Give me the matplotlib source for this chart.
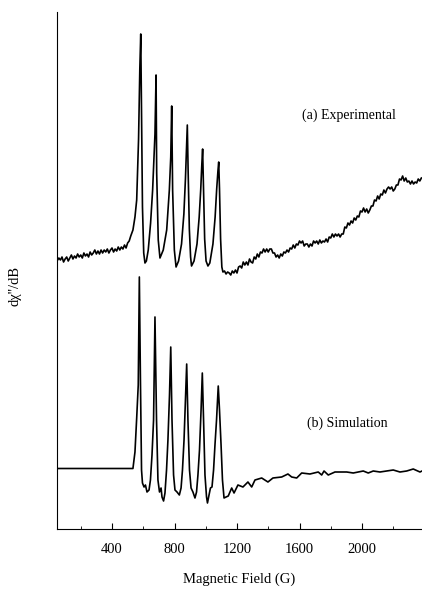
import numpy as np
import matplotlib
matplotlib.use("Agg")
import matplotlib.pyplot as plt

plt.rcParams['font.family'] = ['Liberation Serif', 'DejaVu Serif']

# experimental spectrum (field in G, intensity in arb. units incl. offset)
exp_field = [48, 60, 70, 80, 90, 100, 110, 120, 130, 140, 150, 160, 170, 180, 190, 200,
             210, 220, 230, 240, 250, 260, 270, 280, 290, 300, 310, 320, 330, 340, 350,
             360, 370, 380, 390, 400, 410, 420, 430, 440, 450, 460, 470, 480, 490, 500, 510,
             520, 534, 547, 558, 570, 578, 584, 590, 595, 603, 611,
             620, 632, 647, 660, 669, 675, 682, 686, 696, 707,
             728, 750, 767, 776, 782, 788, 799, 810,
             826, 845, 860, 870, 877, 882, 887, 895, 903, 909,
             925, 944, 958, 968, 975, 980, 985, 993, 1002, 1014,
             1026, 1046, 1060, 1070, 1078, 1083, 1088, 1095, 1103, 1110,
             1120, 1130, 1140,
             1150, 1160, 1170, 1180, 1190, 1200, 1210, 1220, 1230, 1240, 1250, 1260, 1270,
             1280, 1290, 1300, 1310, 1320, 1330, 1340, 1350, 1360, 1370, 1380, 1390, 1400,
             1410, 1420, 1430, 1440, 1450, 1460, 1470, 1480, 1490, 1500, 1510, 1520, 1530,
             1540, 1550, 1560, 1570, 1580, 1590, 1600, 1610, 1620, 1630, 1640, 1650, 1660,
             1670, 1680, 1690, 1700, 1710, 1720, 1730, 1740, 1750, 1760, 1770, 1780, 1790,
             1800, 1810, 1820, 1830, 1840, 1850, 1860, 1870, 1880, 1890, 1900, 1910, 1920,
             1930, 1940, 1950, 1960, 1970, 1980, 1990, 2000, 2010, 2020, 2030, 2040, 2050,
             2060, 2070, 2080, 2090, 2100, 2110, 2120, 2130, 2140, 2150, 2160, 2170, 2180,
             2190, 2200, 2210, 2220, 2230, 2240, 2250, 2260, 2270, 2280, 2290, 2300, 2310,
             2320, 2330, 2340, 2350, 2360, 2370, 2380]
exp_signal = [268, 271, 269, 272, 267, 270, 272, 268, 271, 274, 270, 273, 271, 275, 272, 274,
              271, 276, 273, 275, 272, 277, 274, 276, 279, 275, 278, 275, 279, 276, 279,
              277, 280, 276, 279, 281, 277, 280, 278, 282, 279, 282, 280, 284, 281, 286, 288,
              293, 299, 312, 329, 390, 460, 495, 400, 322, 276, 266,
              268, 279, 306, 339, 372, 395, 454, 356, 289, 271,
              279, 299, 339, 372, 423, 339, 279, 262,
              268, 285, 315, 350, 380, 404, 360, 300, 272, 263,
              268, 285, 312, 340, 365, 380, 345, 290, 268, 263,
              266, 285, 312, 340, 358, 367, 340, 290, 262, 257,
              258, 255, 257,
              256, 254, 258, 256, 259, 256, 262, 263, 261, 267, 264, 267, 264,
              270, 267, 266, 272, 270, 275, 272, 277, 276, 280, 277, 280, 277,
              280, 280, 276, 276, 272, 274, 271, 275, 273, 277, 276, 279, 277,
              281, 280, 284, 281, 285, 284, 288, 286, 288, 283, 285, 285, 282,
              285, 283, 288, 286, 288, 285, 289, 286, 288, 287, 290, 287, 292,
              291, 295, 292, 295, 293, 295, 292, 295, 295, 302, 301, 306, 304,
              308, 306, 311, 309, 313, 312, 318, 317, 321, 317, 320, 316, 319,
              323, 323, 329, 328, 333, 330, 335, 334, 339, 336, 340, 342, 340,
              342, 338, 340, 344, 344, 350, 349, 353, 348, 351, 347, 348, 345,
              348, 345, 347, 346, 350, 348, 351]

# simulated spectrum
sim_field = [48, 534, 547, 558, 568, 575, 582, 589, 595, 605, 614, 624, 637, 646, 656, 666,
             675, 685, 694, 704, 714, 720, 730, 739, 749, 758, 768, 776, 784, 794, 803, 816,
             831, 842, 851, 861, 870, 878, 886, 896, 906, 918, 931, 941, 950, 960, 970, 978,
             986, 995, 1005, 1011, 1021, 1030, 1040, 1050, 1059, 1069, 1080, 1088, 1098, 1107,
             1117, 1130, 1144, 1166, 1181, 1206, 1238, 1270, 1294, 1315, 1358, 1398, 1430,
             1486, 1526, 1550, 1582, 1614, 1667, 1720, 1742, 1757, 1784, 1827, 1902, 1944,
             2008, 2040, 2072, 2115, 2200, 2243, 2286, 2328, 2371, 2384]
sim_signal = [60.5, 60.5, 77, 111, 144, 252, 149, 59, 46, 42, 44, 37, 39, 49, 74, 109,
              212, 109, 49, 37, 41, 32, 28, 36, 59, 89, 134, 182, 109, 54, 39, 37,
              34, 41, 59, 89, 129, 165, 109, 59, 41, 37, 31, 37, 54, 79, 119, 156,
              109, 54, 32, 26, 34, 41, 42, 59, 84, 109, 143, 119, 84, 49,
              31, 32, 33, 41, 36, 44, 42, 47, 42, 49, 51, 47, 51,
              52, 55, 52, 51, 56, 55, 57, 54, 58, 54, 57, 57, 56,
              58, 56, 58, 57, 59, 57, 58, 60, 57, 58]

fig = plt.figure(figsize=(4.22, 5.89), dpi=100)
ax = fig.add_axes([57 / 422, 1 - 529 / 589, 365 / 422, 517 / 589])

ax.plot(exp_field, exp_signal, color='black', lw=1.2)
ax.plot(sim_field, sim_signal, color='black', lw=1.2)

ax.set_xlim(48, 2384)
ax.set_ylim(0, 517)

ax.text(1616, 414, "(a) Experimental", fontsize=10, ha='left', va='center')
ax.text(1648, 106, "(b) Simulation", fontsize=10, ha='left', va='center')

ax.spines['top'].set_visible(False)
ax.spines['right'].set_visible(False)
ax.set_xticks([400, 800, 1200, 1600, 2000])
ax.set_xticks([200, 600, 1000, 1400, 1800, 2200], minor=True)
ax.tick_params(axis='x', which='major', direction='in', length=4, labelsize=10.5, pad=10)
ax.tick_params(axis='x', which='minor', direction='in', length=2.5)
ax.set_yticks([])

ax.set_xlabel("Magnetic Field (G)", fontsize=10.5, labelpad=12)
ax.set_ylabel("dχ''/dB", fontsize=10.5)
ax.yaxis.set_label_coords(-0.097, 0.47)

fig.savefig("out.png", dpi=100)
